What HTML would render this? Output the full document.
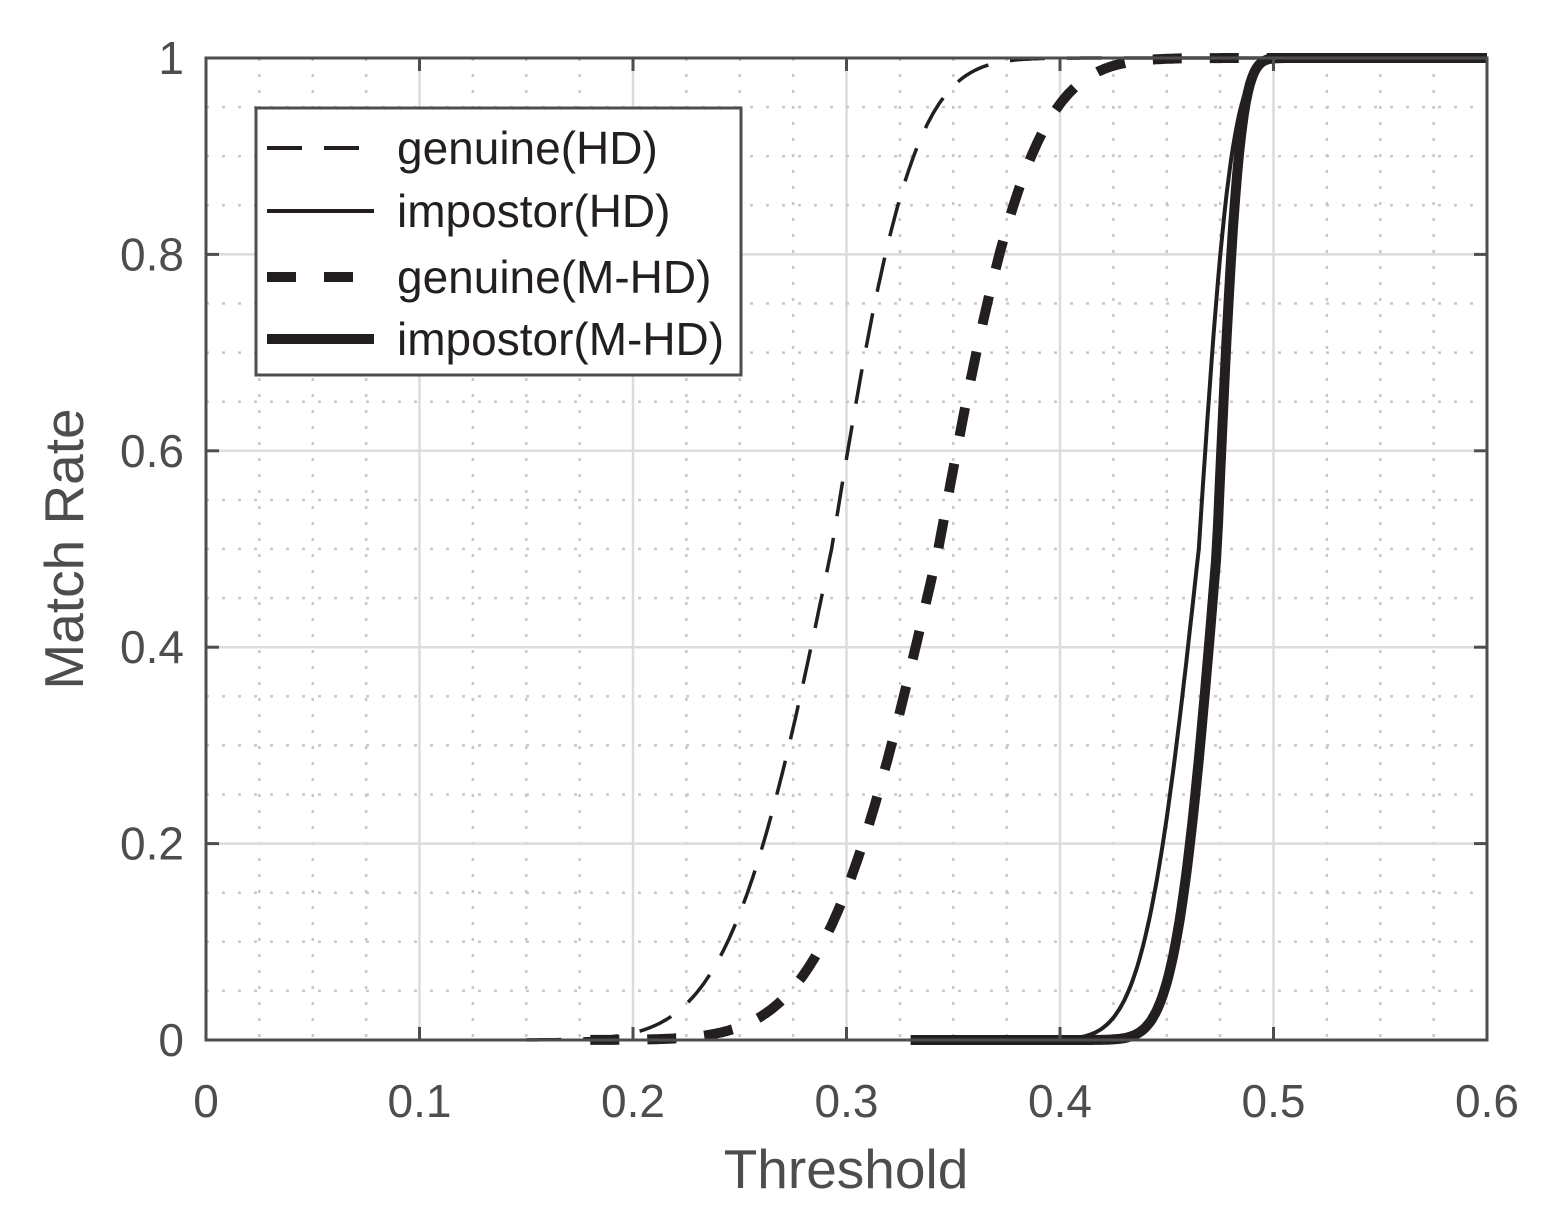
<!DOCTYPE html>
<html><head><style>body{margin:0;background:#fff}svg{display:block}</style></head>
<body>
<svg id="s" width="1550" height="1217" xmlns="http://www.w3.org/2000/svg" font-family="Liberation Sans, Arial, sans-serif">
<rect width="1550" height="1217" fill="#fff"/>
<g id="grid"></g>
<g id="curves" fill="none" stroke="#231f20"></g>
<rect x="206" y="58" width="1281" height="982" fill="none" stroke="#4d4d4d" stroke-width="3"/>
<g id="ticks" stroke="#4d4d4d" stroke-width="3"></g>
<g fill="#4d4d4d" font-size="46" id="labels"></g>
<text x="846" y="1188" font-size="55" fill="#4d4d4d" text-anchor="middle">Threshold</text>
<text transform="translate(83,549) rotate(-90)" font-size="55" fill="#4d4d4d" text-anchor="middle">Match Rate</text>
<g>
<rect x="256" y="108" width="485" height="267" fill="#fff" stroke="#4d4d4d" stroke-width="3"/>
<line x1="267" y1="148" x2="374" y2="148" stroke="#231f20" stroke-width="4" stroke-dasharray="35,22"/>
<line x1="267" y1="211" x2="374" y2="211" stroke="#231f20" stroke-width="4"/>
<line x1="267" y1="277" x2="374" y2="277" stroke="#231f20" stroke-width="10" stroke-dasharray="29,28"/>
<line x1="267" y1="339" x2="374" y2="339" stroke="#231f20" stroke-width="10"/>
<g font-size="46" fill="#231f20">
<text x="397" y="164">genuine(HD)</text>
<text x="397" y="227">impostor(HD)</text>
<text x="397" y="293">genuine(M-HD)</text>
<text x="397" y="355">impostor(M-HD)</text>
</g></g>
</svg>
<script>
var X=t=>206+t*2135, Y=v=>1040-v*982;
var ns="http://www.w3.org/2000/svg";
function el(p,n,a,txt){var e=document.createElementNS(ns,n);for(var k in a)e.setAttribute(k,a[k]);if(txt!=null)e.textContent=txt;document.getElementById(p).appendChild(e);}
for(var i=1;i<24;i++){var x=X(i*0.025);if(i%4==0)el("grid","line",{x1:x,y1:58,x2:x,y2:1040,stroke:"#dcdcdc","stroke-width":2.5});else el("grid","line",{x1:x,y1:58,x2:x,y2:1040,stroke:"#c8c8c8","stroke-width":2.5,"stroke-dasharray":"3,13"});}
for(var i=1;i<20;i++){var y=Y(i*0.05);if(i%4==0)el("grid","line",{x1:206,y1:y,x2:1487,y2:y,stroke:"#dcdcdc","stroke-width":2.5});else el("grid","line",{x1:206,y1:y,x2:1487,y2:y,stroke:"#c8c8c8","stroke-width":2.5,"stroke-dasharray":"3,13"});}
for(var i=0;i<=6;i++){var x=X(i*0.1);el("ticks","line",{x1:x,y1:1040,x2:x,y2:1027});el("ticks","line",{x1:x,y1:58,x2:x,y2:71});el("labels","text",{x:x,y:1117,"text-anchor":"middle"},i==0?"0":(i/10).toFixed(1));}
for(var i=0;i<=5;i++){var y=Y(i*0.2);el("ticks","line",{x1:206,y1:y,x2:219,y2:y});el("ticks","line",{x1:1487,y1:y,x2:1474,y2:y});el("labels","text",{x:184,y:y+16,"text-anchor":"end"},i==0?"0":i==5?"1":(i/5).toFixed(1));}
function erf(x){var s=x<0?-1:1;x=Math.abs(x);var t=1/(1+0.3275911*x);var y=1-(((((1.061405429*t-1.453152027)*t)+1.421413741)*t-0.284496736)*t+0.254829592)*t*Math.exp(-x*x);return s*y;}
function cdf(t,m,sl,su){var s=t<m?sl:su;return 0.5*(1+erf((t-m)/(s*Math.SQRT2)));}
function curve(a,b,m,sl,su,w,dash){var d="";for(var t=a;t<=b+1e-9;t+=0.001){var v=cdf(t,m,sl,su);d+=(d?"L":"M")+X(t).toFixed(1)+","+Y(v).toFixed(1);}var at={d:d,"stroke-width":w};if(dash)at["stroke-dasharray"]=dash;el("curves","path",at);}
curve(0.15,0.6,0.293,0.038,0.03,3.5,"35,22");
curve(0.18,0.6,0.343,0.042,0.034,10,"29,28");
curve(0.33,0.6,0.465,0.02,0.012,4,null);
curve(0.33,0.6,0.4735,0.015,0.008,10,null);
</script>
</body></html>
